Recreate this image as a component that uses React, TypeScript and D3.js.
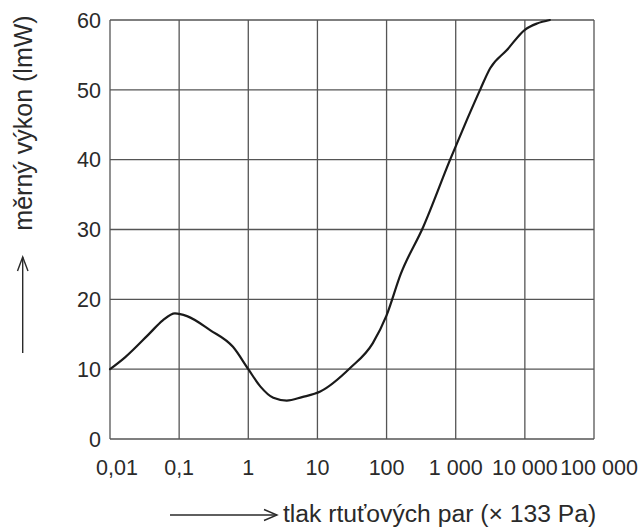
import React from "react";
import * as d3 from "d3";

const pressure = [0.01, 0.0165, 0.038, 0.058, 0.087, 0.13, 0.28, 0.6, 1, 1.5, 2.3, 3.6, 6, 11, 30, 63, 100, 160, 340, 830, 1450, 2250, 3150, 5500, 10000, 15000, 23000];
const efficacy = [10, 11.7, 15.2, 17.0, 18.0, 17.6, 15.6, 13.2, 10, 7.5, 5.9, 5.5, 6.0, 6.8, 10.2, 13.7, 17.7, 23.6, 30.4, 40, 45.7, 50, 53.1, 55.7, 58.6, 59.5, 60];
const xTicks = [0.01, 0.1, 1, 10, 100, 1000, 10000, 100000];
const xTickLabels = ["0,01", "0,1", "1", "10", "100", "1 000", "10 000", "100 000"];
const yTicks = [0, 10, 20, 30, 40, 50, 60];
const yTitle = "měrný výkon (lmW)";
const xTitle = "tlak rtuťových par (× 133 Pa)";

export default function App() {
  const W = 642, H = 528;
  const left = 110, right = 594, top = 20, bottom = 439;
  const x = d3.scaleLog().domain([0.01, 100000]).range([left, right]);
  const y = d3.scaleLinear().domain([0, 60]).range([bottom, top]);
  const pts: [number, number][] = pressure.map((p, i) => [p, efficacy[i]]);
  const line = d3.line<[number, number]>()
    .x(d => x(d[0]))
    .y(d => y(d[1]))
    .curve(d3.curveMonotoneX);
  const font = "'Liberation Sans', Arial, Helvetica, sans-serif";
  const gridColor = "#555";
  const textColor = "#2a2a2a";
  const labelDx = (i: number) => (i === 0 ? 7 : i === xTicks.length - 1 ? 5 : 0);
  return (
    <svg width={W} height={H} style={{ position: "absolute", left: 0, top: 0, background: "#fff" }}>
      <rect x={0} y={0} width={W} height={H} fill="#fff" />
      {yTicks.map(t => (
        <line key={"gy" + t} x1={left} x2={right} y1={y(t)} y2={y(t)} stroke={gridColor} strokeWidth={1.3} />
      ))}
      {xTicks.map(t => (
        <line key={"gx" + t} x1={x(t)} x2={x(t)} y1={top} y2={bottom} stroke={gridColor} strokeWidth={1.3} />
      ))}
      <path d={line(pts) || ""} fill="none" stroke="#1a1a1a" strokeWidth={2.2} strokeLinejoin="round" strokeLinecap="round" />
      {yTicks.map(t => (
        <text key={"ty" + t} x={101} y={y(t)} dy="0.36em" textAnchor="end" fontFamily={font} fontSize={21.5} fill={textColor}>
          {t}
        </text>
      ))}
      {xTicks.map((t, i) => (
        <text key={"tx" + t} x={x(t) + labelDx(i)} y={475} textAnchor="middle" fontFamily={font} fontSize={21.5} fill={textColor}>
          {xTickLabels[i]}
        </text>
      ))}
      <text transform="translate(32,123) rotate(-90)" textAnchor="middle" fontFamily={font} fontSize={25} fill={textColor}>
        {yTitle}
      </text>
      <g stroke="#2a2a2a" strokeWidth={1.4} fill="none">
        <line x1={22.7} x2={22.7} y1={353} y2={257} />
        <polyline points="17.5,271 22.7,257 28,271" />
        <line x1={170} x2={277} y1={515} y2={515} />
        <polyline points="264,509.5 277,515 264,520.5" />
      </g>
      <text x={283} y={522} fontFamily={font} fontSize={24.7} fill={textColor}>
        {xTitle}
      </text>
    </svg>
  );
}
